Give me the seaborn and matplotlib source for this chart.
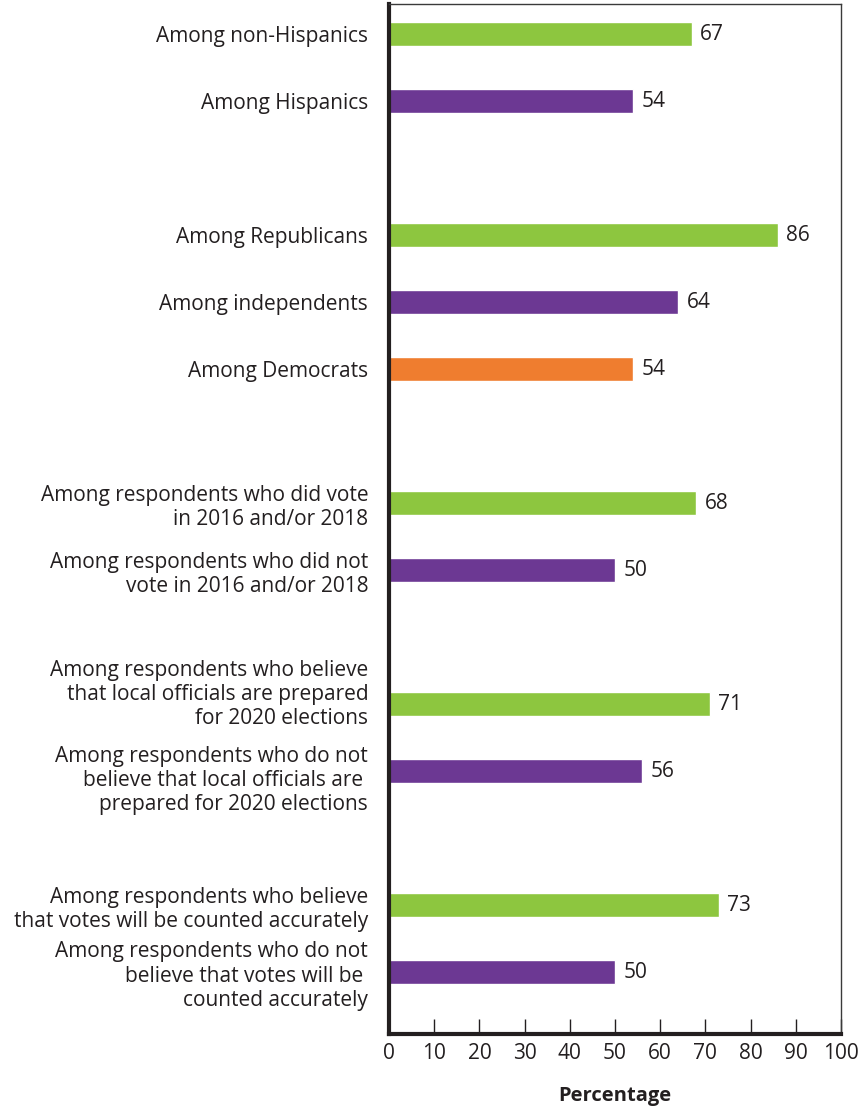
import matplotlib
matplotlib.use("Agg")
import matplotlib.pyplot as plt
import matplotlib.transforms as mtransforms
import seaborn as sns
import pandas as pd

categories = [
    "Among non-Hispanics",
    "Among Hispanics",
    "Among Republicans",
    "Among independents",
    "Among Democrats",
    "Among respondents who did vote\nin 2016 and/or 2018",
    "Among respondents who did not\nvote in 2016 and/or 2018",
    "Among respondents who believe\nthat local officials are prepared\nfor 2020 elections",
    "Among respondents who do not\nbelieve that local officials are \nprepared for 2020 elections",
    "Among respondents who believe\nthat votes will be counted accurately",
    "Among respondents who do not\nbelieve that votes will be \ncounted accurately",
]
values = [67, 54, 86, 64, 54, 68, 50, 71, 56, 73, 50]
groups = ["first", "second", "first", "second", "third",
          "first", "second", "first", "second", "first", "second"]
# row order including blank spacer rows between blocks
order = [categories[0], categories[1], " ",
         categories[2], categories[3], categories[4], "  ",
         categories[5], categories[6], "   ",
         categories[7], categories[8], "    ",
         categories[9], categories[10]]
palette = {"first": "#8DC63F", "second": "#6C3893", "third": "#EF7D2F"}
x_ticks = [0, 10, 20, 30, 40, 50, 60, 70, 80, 90, 100]

df = pd.DataFrame({"category": categories, "value": values, "group": groups})

sns.set_theme(style="white")
plt.rcParams["font.family"] = ["Open Sans", "DejaVu Sans"]
text_color = "#231F20"
fs = 15

fig = plt.figure(figsize=(8.61, 11.09), dpi=100)
ax = fig.add_axes([0.4518, 0.0676, 0.9768 - 0.4518, 0.9964 - 0.0676])

sns.barplot(data=df, y="category", x="value", hue="group", order=order,
            palette=palette, dodge=False, width=0.36, legend=False,
            saturation=1, ax=ax)

for c in ax.containers:
    labs = [f"{v:.0f}" if v == v else "" for v in c.datavalues]
    ax.bar_label(c, labels=labs, padding=6, fontsize=fs, color=text_color)

ax.set_xlim(0, 100)
ax.set_ylim(14.925, -0.448)
ax.set_xticks(x_ticks)
ax.set_xticklabels([str(t) for t in x_ticks], fontsize=fs, color=text_color)
ax.tick_params(axis="x", direction="in", length=11, width=1, color=text_color,
               bottom=True, pad=6.5)
ax.tick_params(axis="y", length=0, pad=15, labelsize=fs, labelcolor=text_color)

# small vertical nudges (points) of the two crowded three-line labels
nudge = {categories[7]: 10, categories[8]: -4}
for lab in ax.get_yticklabels():
    lab.set_horizontalalignment("right")
    lab.set_multialignment("right")
    lab.set_linespacing(1.2)
    dy = nudge.get(lab.get_text(), 0)
    if dy:
        lab.set_transform(lab.get_transform() +
                          mtransforms.ScaledTranslation(0, dy / 72, fig.dpi_scale_trans))

ax.set_ylabel("")
ax.set_xlabel("Percentage", fontsize=14.5, fontweight="bold", color=text_color,
              labelpad=16)

for side in ["left", "bottom"]:
    ax.spines[side].set_color(text_color)
    ax.spines[side].set_linewidth(3)
for side in ["top", "right"]:
    ax.spines[side].set_color("#3a3a3a")
    ax.spines[side].set_linewidth(1)
    ax.spines[side].set_visible(True)

fig.savefig("out.png", dpi=100)
